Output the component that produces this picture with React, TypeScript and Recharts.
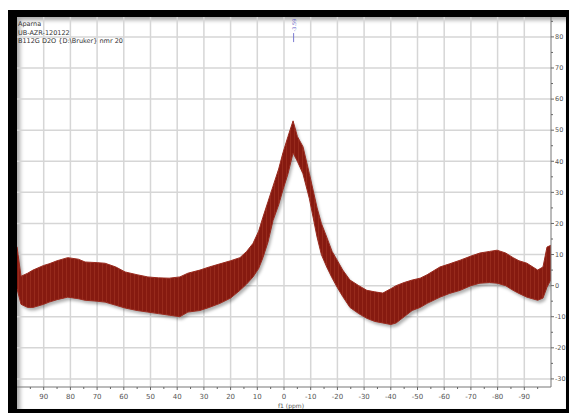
import React from 'react';
import { ComposedChart, Area, XAxis, YAxis, CartesianGrid, ReferenceDot } from 'recharts';

// chemical shift (ppm) and the noise band of the spectrum
const PPM = [100, 98.5, 96, 94, 90, 88, 85, 81, 77, 74.5, 70, 67, 63, 59.5, 55, 51, 47, 43, 39, 36, 31.5, 28, 24, 20, 16.5, 14, 11.6, 9.5, 7.9, 6, 4.1, 2, 0.4, -1.5, -3.4, -5, -7.1, -9.5, -12.4, -14, -16, -18, -19.9, -22, -24.7, -28, -31, -34, -37, -40, -42, -45, -48, -51, -53.6, -58.4, -62, -66, -70, -73.4, -77, -79.8, -83, -85.8, -88, -91, -95, -97, -98.5, -100];
const HIGH = [12.5, 3, 4, 5, 6.5, 7, 8, 9, 8.5, 7.6, 7.4, 7.2, 6, 4.4, 3.5, 2.8, 2.5, 2.4, 2.8, 4, 5, 6, 7, 8, 9, 11, 13.6, 17.5, 22, 27, 32, 37.5, 42.7, 48, 53, 48, 44.7, 36, 25, 20, 15.6, 11, 8.2, 5, 1.8, 0, -1.5, -2, -2.4, -1, 0, 1, 1.8, 2.4, 3.5, 6, 7, 8.2, 9.5, 10.5, 11, 11.4, 10.5, 9, 8, 7.2, 5, 6, 12.4, 13];
const LOW = [-1, -6, -7, -7, -6, -5.3, -4.5, -3.7, -4.2, -4.7, -5, -5.3, -6.3, -7.2, -8, -8.5, -9, -9.5, -10, -8.5, -8, -7, -5.7, -4, -1.5, 0.5, 2.8, 5.5, 9, 14, 21, 26, 30.8, 36, 42.7, 40, 36, 28, 15.6, 10, 6, 2.5, -0.5, -3.5, -7, -9, -10.5, -11.5, -12, -12.5, -12, -10, -8, -7, -5.7, -3.7, -2.5, -1.5, 0, 0.8, 1, 0.8, 0, -1.5, -2.5, -3.7, -4.7, -4, -0.5, 2];

const X_TICKS = [95, 90, 85, 80, 75, 70, 65, 60, 55, 50, 45, 40, 35, 30, 25, 20, 15, 10, 5, 0, -5, -10, -15, -20, -25, -30, -35, -40, -45, -50, -55, -60, -65, -70, -75, -80, -85, -90, -95];
const Y_TICKS = [-30, -25, -20, -15, -10, -5, 0, 5, 10, 15, 20, 25, 30, 35, 40, 45, 50, 55, 60, 65, 70, 75, 80, 85];
const GRID_X = [90, 80, 70, 60, 50, 40, 30, 20, 10, 0, -10, -20, -30, -40, -50, -60, -70, -80, -90];
const GRID_Y = [-30, -20, -10, 0, 10, 20, 30, 40, 50, 60, 70, 80];

const X_DOMAIN = [-100, 100];
const Y_DOMAIN = [-32.6, 86.4];

const HEADER = ['Aparna', 'UB-AZR-120122', 'B112G D2O {D:\\Bruker} nmr 20'];
const PEAK_PPM = -3.6;
const PEAK_LABEL = '-3.59';

const data = PPM.map((p, i) => ({ ppm: p, band: [LOW[i], HIGH[i]] }));

const FONT = '"DejaVu Sans", Verdana, sans-serif';

// grid only on the labelled values (x axis is reversed: high ppm on the left)
const gridX = ({ offset }: any) =>
  GRID_X.map((v) => offset.left + ((X_DOMAIN[1] - v) / (X_DOMAIN[1] - X_DOMAIN[0])) * offset.width);
const gridY = ({ offset }: any) =>
  GRID_Y.map((v) => offset.top + ((Y_DOMAIN[1] - v) / (Y_DOMAIN[1] - Y_DOMAIN[0])) * offset.height);

const XTick = (props: any) => {
  const { x, y, payload } = props;
  const major = payload.value % 10 === 0;
  return (
    <g>
      <line x1={x} y1={y} x2={x} y2={y + (major ? 3 : 2)} stroke="#666" strokeWidth={1} />
      {major && (
        <text x={x} y={y + 12} textAnchor="middle" fontSize={7} fill="#555" fontFamily={FONT}>
          {payload.value}
        </text>
      )}
    </g>
  );
};

const YTick = (props: any) => {
  const { x, y, payload } = props;
  const major = payload.value % 10 === 0;
  return (
    <g>
      <line x1={x} y1={y} x2={x + (major ? 3 : 2)} y2={y} stroke="#666" strokeWidth={1} />
      {major && (
        <text x={x + 4} y={y + 2.3} textAnchor="start" fontSize={6.5} fill="#555" fontFamily={FONT}>
          {payload.value}
        </text>
      )}
    </g>
  );
};

const PeakMark = (props: any) => {
  const { cx, cy } = props;
  return (
    <g>
      <text
        x={cx}
        y={cy}
        transform={`rotate(-90 ${cx} ${cy})`}
        textAnchor="middle"
        dominantBaseline="central"
        fontSize={5}
        fill="#6464c8"
        fontFamily={FONT}
      >
        {PEAK_LABEL}
      </text>
      <line x1={cx} y1={cy + 8} x2={cx} y2={cy + 17} stroke="#7a7ad0" strokeWidth={1} />
    </g>
  );
};

export default function App() {
  return (
    <div
      style={{
        position: 'fixed',
        left: 8,
        top: 10,
        width: 549,
        height: 392,
        borderStyle: 'solid',
        borderColor: '#000',
        borderWidth: '7px 3px 4px 9px',
        overflow: 'hidden',
        background: '#fff',
        boxShadow: 'inset 3px 3px 4px rgba(0,0,0,0.35)',
      }}
    >
      <style>{`.recharts-area-area { filter: drop-shadow(2px 3px 1.5px rgba(0,0,0,0.3)); }`}</style>
      <ComposedChart width={549} height={392} data={data} margin={{ top: 0, right: 0, bottom: 0, left: 0 }}>
        <defs>
          <pattern id="spikes" width="4" height="6" patternUnits="userSpaceOnUse">
            <rect width="4" height="6" fill="#861a10" />
            <rect x="1" width="1" height="6" fill="#972a1c" />
          </pattern>
        </defs>
        <CartesianGrid
          stroke="#d6d6d6"
          strokeWidth={1.5}
          horizontalCoordinatesGenerator={gridY}
          verticalCoordinatesGenerator={gridX}
        />
        <XAxis
          dataKey="ppm"
          type="number"
          domain={X_DOMAIN}
          reversed
          ticks={X_TICKS}
          interval={0}
          height={22}
          tickSize={0}
          tickMargin={0}
          tickLine={false}
          tick={<XTick />}
          axisLine={{ stroke: '#777' }}
          allowDataOverflow
        />
        <YAxis
          orientation="right"
          type="number"
          domain={Y_DOMAIN}
          ticks={Y_TICKS}
          interval={0}
          width={15}
          tickSize={0}
          tickMargin={0}
          tickLine={false}
          tick={<YTick />}
          axisLine={{ stroke: '#777' }}
          allowDataOverflow
        />
        <Area
          dataKey="band"
          type="linear"
          stroke="#9a2b1f"
          strokeWidth={1}
          fill="url(#spikes)"
          fillOpacity={1}
          isAnimationActive={false}
          dot={false}
          activeDot={false}
        />
        <ReferenceDot x={PEAK_PPM} y={83.8} r={0} shape={<PeakMark />} />
      </ComposedChart>
      <div
        style={{
          position: 'absolute',
          left: 1,
          top: 3,
          fontFamily: FONT,
          fontSize: 6.5,
          lineHeight: '8.5px',
          color: '#333',
        }}
      >
        {HEADER.map((h) => (
          <div key={h}>{h}</div>
        ))}
      </div>
      <div
        style={{
          position: 'absolute',
          left: 274,
          top: 385,
          transform: 'translateX(-50%)',
          fontFamily: FONT,
          fontSize: 6,
          color: '#555',
          whiteSpace: 'nowrap',
        }}
      >
        f1 (ppm)
      </div>
    </div>
  );
}
